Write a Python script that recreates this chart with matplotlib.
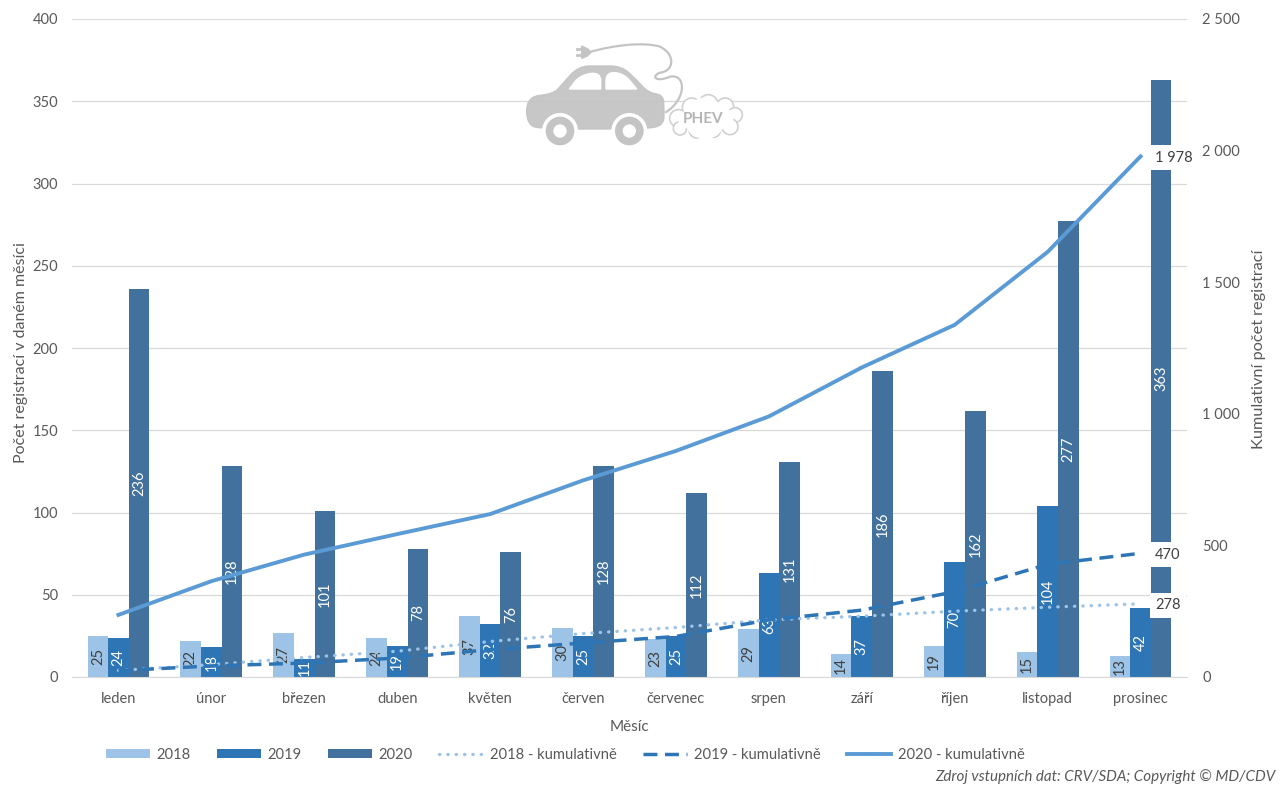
import matplotlib
matplotlib.use("Agg")
import numpy as np
import matplotlib.pyplot as plt
from matplotlib.patches import Circle, Polygon, PathPatch
from matplotlib.path import Path

plt.rcParams['font.family'] = ['Lato', 'DejaVu Sans']

months = ["leden", "únor", "březen", "duben", "květen", "červen", "červenec",
          "srpen", "září", "říjen", "listopad", "prosinec"]
reg_2018 = [25, 22, 27, 24, 37, 30, 23, 29, 14, 19, 15, 13]
reg_2019 = [24, 18, 11, 19, 32, 25, 25, 63, 37, 70, 104, 42]
reg_2020 = [236, 128, 101, 78, 76, 128, 112, 131, 186, 162, 277, 363]
cum_2018 = [25, 47, 74, 98, 135, 165, 188, 217, 231, 250, 265, 278]
cum_2019 = [24, 42, 53, 72, 104, 129, 154, 217, 254, 324, 428, 470]
cum_2020 = [236, 364, 465, 543, 619, 747, 859, 990, 1176, 1338, 1615, 1978]
left_ticks = [0, 50, 100, 150, 200, 250, 300, 350, 400]
right_ticks = [0, 500, 1000, 1500, 2000, 2500]

TXT = "#595959"
GRID = "#d9d9d9"
C18, C19, C20 = "#9dc3e6", "#2e75b6", "#41719c"
L18, L19, L20 = "#9dc3e6", "#2e75b6", "#5b9bd5"
W, H = 1282, 789
FS = 10.5


def fmt(v):
    return "{:,}".format(v).replace(",", " ")


def smooth(points):
    # closed outline, rounded through the midpoints
    pts = [np.array(p, dtype=float) for p in points]
    verts = [(pts[-1] + pts[0]) / 2]
    codes = [Path.MOVETO]
    for i, p in enumerate(pts):
        verts += [p, (p + pts[(i + 1) % len(pts)]) / 2]
        codes += [Path.CURVE3, Path.CURVE3]
    return Path(verts, codes)


fig = plt.figure(figsize=(W / 100, H / 100), dpi=100, facecolor="white")
ax = fig.add_axes([72 / W, 1 - 677 / H, (1187 - 72) / W, (677 - 19) / H])
x = np.arange(len(months))
w = 0.222

#---------------- bars + labels
for off, vals, col, lab, tc in [(-w, reg_2018, C18, "2018", "#404040"),
                                (0, reg_2019, C19, "2019", "white"),
                                (w, reg_2020, C20, "2020", "white")]:
    bars = ax.bar(x + off, vals, w, color=col, label=lab, zorder=2)
    ax.bar_label(bars, labels=[str(v) for v in vals], label_type="center", rotation=90,
                 color=tc, fontsize=FS, zorder=3)

ax.set_xlim(-0.5, 11.5)
ax.set_ylim(0, 400)
ax.set_xticks(x)
ax.set_xticklabels(months)
ax.set_yticks(left_ticks)
ax.grid(axis="y", color=GRID, lw=0.9, zorder=0)
ax.set_axisbelow(True)
ax.tick_params(axis="x", length=0, pad=10.5, labelcolor=TXT, labelsize=FS)
ax.tick_params(axis="y", length=0, pad=10, labelcolor=TXT, labelsize=FS)
for s in ["top", "left", "right"]:
    ax.spines[s].set_visible(False)
ax.spines["bottom"].set_color(GRID)
ax.set_xlabel("Měsíc", color=TXT, fontsize=11, labelpad=10.5)
ax.set_ylabel("Počet registrací v daném měsíci", color=TXT, fontsize=11.5)
ax.yaxis.set_label_coords((28 - 72) / (1187 - 72), (677 - 353) / (677 - 19))

#---------------- cumulative lines on the right axis
ax2 = ax.twinx()
ax2.set_ylim(0, 2500)
ax2.set_yticks(right_ticks)
ax2.set_yticklabels([fmt(v) for v in right_ticks])
ax2.tick_params(axis="y", length=0, pad=11, labelcolor=TXT, labelsize=FS)
for s in ["top", "left", "right", "bottom"]:
    ax2.spines[s].set_visible(False)
ax2.set_ylabel("Kumulativní počet registrací", color=TXT, fontsize=11.7)
ax2.yaxis.set_label_coords((1252 - 72) / (1187 - 72), (677 - 349) / (677 - 19))

ax2.plot(x, cum_2018, color=L18, lw=2.4, ls=(0, (0.1, 2.4)), dash_capstyle="round", label="2018 - kumulativně")
ax2.plot(x, cum_2019, color=L19, lw=2.5, ls=(0, (4, 2.2)), label="2019 - kumulativně")
ax2.plot(x, cum_2020, color=L20, lw=2.8, label="2020 - kumulativně")

for cum in [cum_2018, cum_2019, cum_2020]:
    ax2.annotate(fmt(cum[-1]), (x[-1], cum[-1]), xytext=(10.5, -1), textcoords="offset points",
                 va="center", ha="left", color="#404040", fontsize=FS,
                 bbox=dict(fc="white", ec="none", pad=4))

#---------------- legend + source
h1, l1 = ax.get_legend_handles_labels()
h2, l2 = ax2.get_legend_handles_labels()
fig.legend(h1 + h2, l1 + l2, ncol=6, loc="center", bbox_to_anchor=(565 / W, 1 - 755 / H),
           frameon=False, fontsize=10.6, labelcolor=TXT, handlelength=3.0, handleheight=0.6,
           handletextpad=0.45, columnspacing=1.78)
fig.text(1275 / W, 1 - 777 / H, "Zdroj vstupních dat: CRV/SDA; Copyright © MD/CDV",
         ha="right", va="center", style="italic", color=TXT, fontsize=10.9)

#---------------- logo, drawn in zoomed-in pixel units of its box
logo = fig.add_axes([500 / W, 1 - 160 / H, 260 / W, 130 / H], zorder=5)
logo.set_xlim(0, 780)
logo.set_ylim(390, 0)
logo.axis("off")
LOGO = "#c4c4c4"
body = [(80, 285), (80, 200), (160, 192), (185, 165), (235, 108), (300, 108), (365, 108), (410, 150),
        (445, 188), (490, 195), (492, 235), (492, 285), (440, 297), (300, 297), (130, 297)]
logo.add_patch(PathPatch(smooth(body), fc=LOGO, ec=LOGO, lw=1, alpha=0.95))
logo.add_patch(PathPatch(smooth([(208, 177), (208, 177), (240, 135), (302, 126), (302, 177), (302, 177)]),
                         fc="white", ec="white"))
logo.add_patch(PathPatch(smooth([(318, 177), (318, 177), (318, 126), (372, 130), (410, 177), (410, 177)]),
                         fc="white", ec="white"))
for cx in (180, 388):
    logo.add_patch(Circle((cx, 303), 54, fc="white", ec="none"))
    logo.add_patch(Circle((cx, 303), 43, fc=LOGO, ec="none"))
    logo.add_patch(Circle((cx, 303), 20, fc="white", ec="none"))
cable = Path([(262, 68), (340, 45), (430, 35), (480, 50), (530, 75), (520, 125), (480, 128),
              (450, 140), (470, 158), (510, 140), (560, 130), (560, 210), (495, 248)],
             [Path.MOVETO] + [Path.CURVE4] * 12)
logo.add_patch(PathPatch(cable, fc="none", ec=LOGO, lw=1.6))
logo.add_patch(Polygon([(245, 48), (265, 58), (272, 68), (262, 78), (245, 85)], fc=LOGO, ec=LOGO))
logo.plot([230, 245], [56, 56], color=LOGO, lw=2)
logo.plot([230, 245], [76, 76], color=LOGO, lw=2)
bumps = [(535, 265, 26), (575, 232, 28), (625, 222, 28), (675, 230, 26), (705, 255, 22), (690, 290, 24),
         (640, 300, 22), (590, 302, 22), (540, 295, 20)]
for bx, by, r in bumps:
    logo.add_patch(Circle((bx, by), r, fc="white", ec="#d0d0d0", lw=1.2))
logo.add_patch(Circle((615, 265), 62, fc="white", ec="none"))
logo.add_patch(Polygon([(535, 245), (700, 240), (700, 290), (535, 295)], fc="white", ec="none"))
logo.text(610, 268, "PHEV", ha="center", va="center", color="#b5b5b5", fontsize=11, fontweight="bold")

fig.savefig("out.png", dpi=100)
